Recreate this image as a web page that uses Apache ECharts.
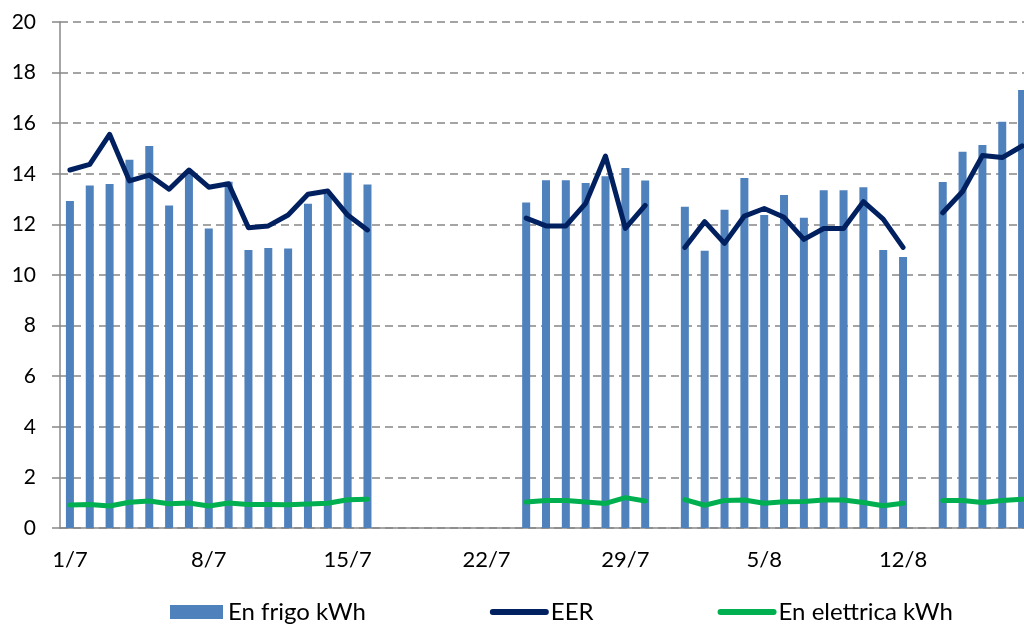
<!DOCTYPE html>
<html>
<head>
<meta charset="utf-8">
<script src="https://cdn.jsdelivr.net/npm/echarts@6/dist/echarts.min.js"></script>
<style>
  html, body { margin: 0; padding: 0; background: #fff; }
  #main { width: 1024px; height: 625px; }
</style>
</head>
<body>
<div id="main"></div>
<script>
var days = [
  '1/7','2/7','3/7','4/7','5/7','6/7','7/7','8/7','9/7','10/7','11/7','12/7','13/7','14/7','15/7','16/7',
  '17/7','18/7','19/7','20/7','21/7','22/7','23/7','24/7','25/7','26/7','27/7','28/7','29/7','30/7','31/7',
  '1/8','2/8','3/8','4/8','5/8','6/8','7/8','8/8','9/8','10/8','11/8','12/8','13/8','14/8','15/8','16/8','17/8','18/8'
];

var enFrigo = [
  12.92, 13.54, 13.6, 14.56, 15.1, 12.75, 13.99, 11.84, 13.69, 10.99, 11.07, 11.05, 12.82, 13.2, 14.04, 13.58,
  null, null, null, null, null, null, null,
  12.87, 13.75, 13.75, 13.64, 13.9, 14.23, 13.74,
  null,
  12.7, 10.96, 12.58, 13.83, 12.37, 13.16, 12.26, 13.35, 13.35, 13.47, 10.99, 10.71,
  null,
  13.68, 14.87, 15.14, 16.06, 17.31
];

var eer = [
  14.15, 14.37, 15.56, 13.72, 13.95, 13.39, 14.15, 13.47, 13.61, 11.87, 11.94, 12.37, 13.19, 13.32, 12.37, 11.78,
  null, null, null, null, null, null, null,
  12.25, 11.94, 11.94, 12.83, 14.7, 11.84, 12.75,
  null,
  11.09, 12.11, 11.25, 12.33, 12.63, 12.28, 11.41, 11.84, 11.84, 12.9, 12.21, 11.09,
  null,
  12.46, 13.3, 14.72, 14.64, 15.1
];

var enElettrica = [
  0.91, 0.93, 0.87, 1.02, 1.07, 0.96, 0.99, 0.87, 0.99, 0.93, 0.93, 0.92, 0.95, 0.98, 1.12, 1.14,
  null, null, null, null, null, null, null,
  1.03, 1.09, 1.09, 1.03, 0.97, 1.2, 1.07,
  null,
  1.12, 0.9, 1.09, 1.11, 0.98, 1.04, 1.05, 1.11, 1.11, 1.01, 0.88, 0.98,
  null,
  1.09, 1.09, 1.01, 1.09, 1.14
];

var chartDom = document.getElementById('main');
var myChart = echarts.init(chartDom);
var option;

// the plot runs past the right edge of the picture, so use a fixed width
option = {
  animation: false,
  textStyle: { fontFamily: 'Lato' },
  grid: { left: 60, width: 972, top: 22, bottom: 97, outerBoundsMode: 'none' },
  legend: {
    left: 165,
    top: 595,
    itemWidth: 53,
    itemHeight: 14,
    itemGap: 124,
    textStyle: { fontSize: 24, color: '#000', fontFamily: 'Lato' },
    data: [
      { name: 'En frigo kWh', icon: 'rect' },
      { name: 'EER', itemStyle: { opacity: 0 }, lineStyle: { width: 6, cap: 'round' } },
      { name: 'En elettrica kWh', itemStyle: { opacity: 0 }, lineStyle: { width: 6, cap: 'round' } }
    ]
  },
  xAxis: {
    type: 'category',
    data: days,
    boundaryGap: true,
    axisLine: { lineStyle: { color: '#888', width: 1.5 } },
    axisTick: { interval: 6, length: 8, lineStyle: { color: '#888', width: 1.5 } },
    axisLabel: { interval: 6, fontSize: 22, color: '#000', margin: 21 }
  },
  yAxis: {
    type: 'value',
    min: 0,
    max: 20,
    interval: 2,
    axisLine: { show: true, lineStyle: { color: '#888', width: 1.5 } },
    axisTick: { show: true, length: 8, lineStyle: { color: '#888', width: 1.5 } },
    axisLabel: { fontSize: 21, color: '#000', margin: 24 },
    splitLine: { lineStyle: { color: '#868686', width: 1.5, type: [8, 5] } }
  },
  series: [
    {
      name: 'En frigo kWh',
      type: 'bar',
      data: enFrigo,
      barWidth: 8,
      itemStyle: { color: '#4F81BD' }
    },
    {
      name: 'EER',
      type: 'line',
      data: eer,
      symbol: 'none',
      connectNulls: false,
      lineStyle: { color: '#002060', width: 5, cap: 'round', join: 'round' },
      itemStyle: { color: '#002060' }
    },
    {
      name: 'En elettrica kWh',
      type: 'line',
      data: enElettrica,
      symbol: 'none',
      connectNulls: false,
      lineStyle: { color: '#00B050', width: 5, cap: 'round', join: 'round' },
      itemStyle: { color: '#00B050' }
    }
  ]
};

option && myChart.setOption(option);
</script>
</body>
</html>
